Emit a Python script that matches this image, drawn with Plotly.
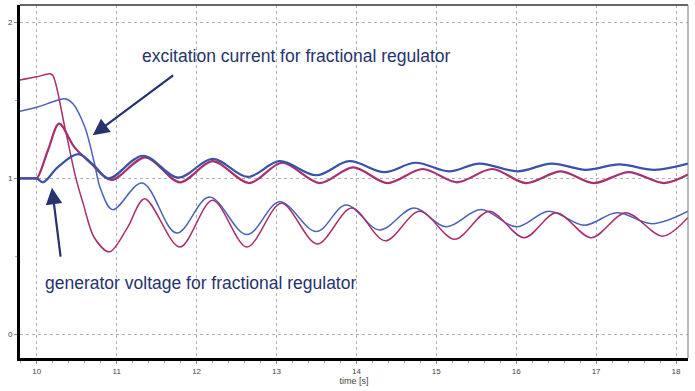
import plotly.graph_objects as go

# excitation current, magenta
t_exc_m = [9.79, 10.0, 10.16, 10.2, 10.35, 10.49, 10.58, 10.72, 10.91, 11.13, 11.35, 11.79, 12.2, 12.63,
           13.06, 13.51, 13.94, 14.36, 14.79, 15.23, 15.66, 16.1, 16.5, 16.94, 17.37, 17.83, 18.15]
v_exc_m = [1.63, 1.65, 1.67, 1.66, 1.33, 1.0, 0.84, 0.62, 0.53, 0.68, 0.87, 0.56, 0.86, 0.56,
           0.84, 0.58, 0.81, 0.6, 0.79, 0.61, 0.79, 0.62, 0.78, 0.62, 0.78, 0.63, 0.75]

# excitation current, blue
t_exc_b = [9.79, 10.0, 10.2, 10.35, 10.45, 10.6, 10.72, 10.8, 10.95, 11.32, 11.75, 12.16, 12.63, 13.04,
           13.5, 13.87, 14.29, 14.72, 15.12, 15.56, 16.0, 16.41, 16.85, 17.26, 17.7, 18.15]
v_exc_b = [1.43, 1.455, 1.49, 1.51, 1.48, 1.33, 1.1, 0.93, 0.80, 0.97, 0.65, 0.88, 0.64, 0.85,
           0.66, 0.83, 0.67, 0.81, 0.69, 0.80, 0.69, 0.79, 0.70, 0.78, 0.71, 0.79]

# generator voltage, magenta
t_volt_m = [9.79, 9.95, 10.0, 10.14, 10.28, 10.47, 10.67, 10.93, 11.36, 11.79, 12.2, 12.66, 13.07, 13.54,
            13.96, 14.39, 14.83, 15.26, 15.7, 16.12, 16.56, 16.97, 17.41, 17.85, 18.15]
v_volt_m = [1.0, 1.0, 1.0, 1.18, 1.35, 1.2, 1.10, 0.99, 1.135, 0.975, 1.11, 0.97, 1.10, 0.97,
            1.07, 0.97, 1.06, 0.975, 1.06, 0.97, 1.045, 0.97, 1.04, 0.97, 1.025]

# generator voltage, blue
t_volt_b = [9.79, 9.95, 10.0, 10.08, 10.26, 10.52, 10.72, 10.9, 11.33, 11.77, 12.2, 12.64, 13.04, 13.5,
            13.91, 14.35, 14.74, 15.16, 15.54, 16.02, 16.44, 16.87, 17.29, 17.73, 18.15]
v_volt_b = [1.0, 1.0, 1.0, 0.975, 1.07, 1.155, 1.08, 1.0, 1.145, 1.005, 1.125, 1.01, 1.11, 1.02,
            1.11, 1.04, 1.10, 1.045, 1.095, 1.045, 1.095, 1.055, 1.09, 1.055, 1.095]

x_ticks = [10, 11, 12, 13, 14, 15, 16, 17, 18]
y_ticks = [0, 1, 2]

BLUE = "#4a62b8"
BLUE_D = "#3a52a8"
MAG = "#a8306e"
NAVY = "#26336e"

fig = go.Figure()
fig.add_trace(go.Scatter(x=t_exc_b, y=v_exc_b, mode="lines", line=dict(color=BLUE, width=1.5, shape="spline", smoothing=1.0)))
fig.add_trace(go.Scatter(x=t_exc_m, y=v_exc_m, mode="lines", line=dict(color=MAG, width=1.5, shape="spline", smoothing=0.9)))
fig.add_trace(go.Scatter(x=t_volt_m, y=v_volt_m, mode="lines", line=dict(color=MAG, width=2.2, shape="spline", smoothing=0.9)))
fig.add_trace(go.Scatter(x=t_volt_b, y=v_volt_b, mode="lines", line=dict(color=BLUE_D, width=2.2, shape="spline", smoothing=1.0)))

fig.add_annotation(x=10.7, y=1.276, ax=11.725, ay=1.667, xref="x", yref="y", axref="x", ayref="y",
                   text="", showarrow=True, arrowhead=2, arrowsize=1.5, arrowwidth=2.2, arrowcolor=NAVY)
fig.add_annotation(x=10.19, y=0.94, ax=10.3, ay=0.49, xref="x", yref="y", axref="x", ayref="y",
                   text="", showarrow=True, arrowhead=2, arrowsize=1.5, arrowwidth=2.2, arrowcolor=NAVY)
fig.add_annotation(x=13.25, y=1.782, xref="x", yref="y", text="excitation current for fractional regulator",
                   showarrow=False, font=dict(family="Liberation Sans, Arial", size=17.5, color=NAVY))
fig.add_annotation(x=12.05, y=0.333, xref="x", yref="y", text="generator voltage for fractional regulator",
                   showarrow=False, font=dict(family="Liberation Sans, Arial", size=17.5, color=NAVY))

# thin top/right frame
fig.add_shape(type="line", xref="paper", yref="paper", x0=0, x1=1, y0=1, y1=1, line=dict(color="#333333", width=1.5))
fig.add_shape(type="line", xref="paper", yref="paper", x0=1, x1=1, y0=0, y1=1, line=dict(color="#777777", width=1))

fig.update_layout(
    width=695, height=391, margin=dict(l=20, r=7, t=5, b=33),
    paper_bgcolor="white", plot_bgcolor="white", showlegend=False,
    font=dict(family="Liberation Sans, Arial", size=8, color="#444444"),
    xaxis=dict(range=[9.79, 18.15], tickvals=x_ticks, ticktext=[str(v) for v in x_ticks],
               showgrid=True, gridcolor="#b0b0b0", griddash="dot", gridwidth=1,
               showline=True, linecolor="black", linewidth=3, ticks="outside", ticklen=3, tickcolor="#888",
               minor=dict(dtick=0.2, ticks="outside", ticklen=2, tickcolor="#aaa", showgrid=False),
               zeroline=False, title=dict(text="time [s]", font=dict(size=9, color="#444"), standoff=4),
               tickfont=dict(size=8)),
    yaxis=dict(range=[-0.15, 2.11], tickvals=y_ticks, ticktext=[str(v) for v in y_ticks],
               showgrid=True, gridcolor="#b0b0b0", griddash="dot", gridwidth=1,
               showline=True, linecolor="black", linewidth=3, ticks="outside", ticklen=3, tickcolor="#888",
               minor=dict(dtick=0.5, ticks="outside", ticklen=2, tickcolor="#aaa", showgrid=False),
               zeroline=False, tickfont=dict(size=8)),
)

fig.write_html("out.html")
